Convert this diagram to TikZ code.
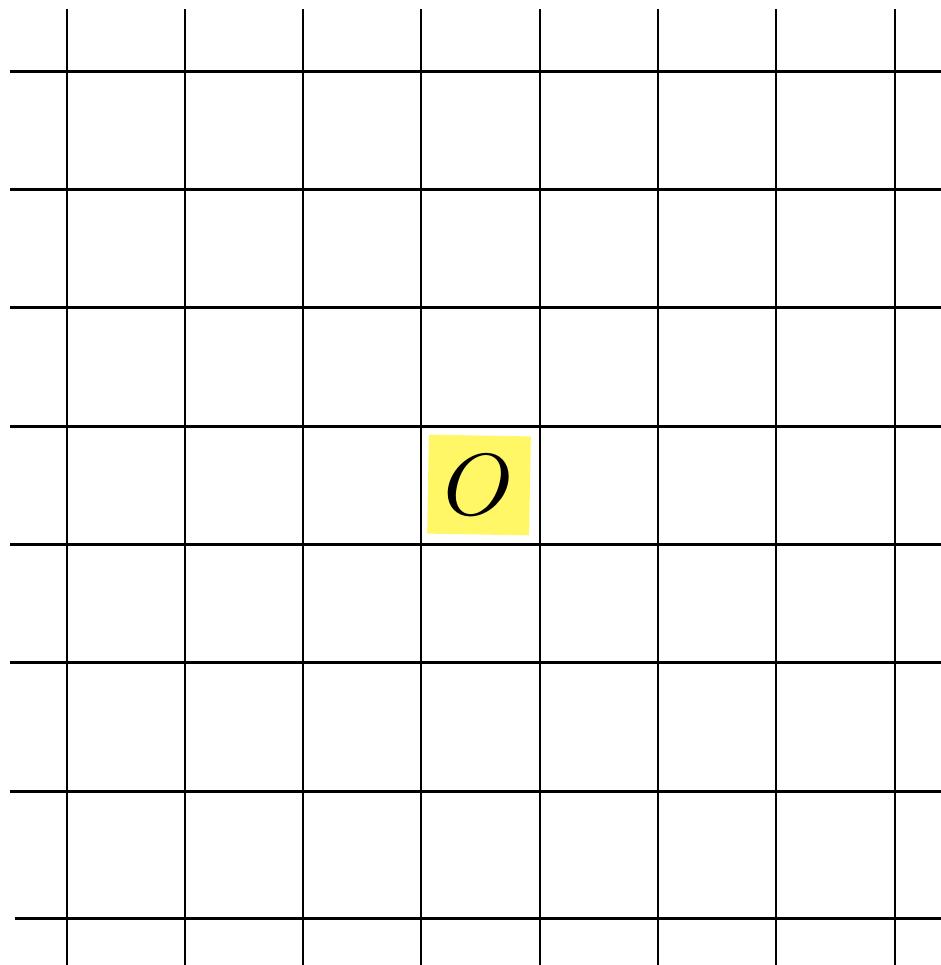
\documentclass[tikz,border=0pt]{standalone}
\begin{document}
\begin{tikzpicture}[
  x=0.02cm,y=-0.02cm,
  gridline/.style={line width=1.7pt,black},
  origin/.style={rectangle,fill=yellow!60,minimum width=2.04cm,minimum height=1.98cm,inner sep=0pt},
]
\useasboundingbox (0,0) rectangle (941,965);

% vertical lines
\foreach \x in {67,185,303,421,540,658,776,895}
  \draw[gridline] (\x,9) -- (\x,965);

% horizontal lines
\foreach \y in {71,189,307,426,544,662,791}
  \draw[gridline] (10,\y) -- (941,\y);
\draw[gridline] (15,918) -- (941,918);

% origin label
\node[origin,rotate=-1] (O) at (479,485) {\scalebox{5}{$O$}};

\end{tikzpicture}
\end{document}
